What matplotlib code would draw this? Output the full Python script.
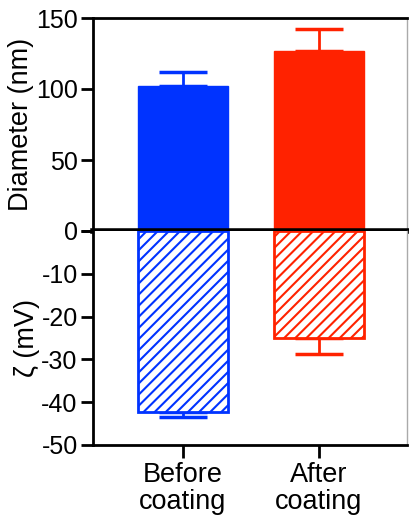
import matplotlib
matplotlib.use("Agg")
import matplotlib.pyplot as plt

plt.rcParams['font.family'] = ['Liberation Sans', 'DejaVu Sans']
plt.rcParams['hatch.linewidth'] = 1.5

categories = ["Before\ncoating", "After\ncoating"]
diameter = [102.3, 127.0]
diameter_err = [9.5, 15.5]
zeta = [-42.2, -25.1]
zeta_err = [1.3, 3.6]
colors = ["#0033FF", "#FF2200"]

W, H = 409, 518
fig = plt.figure(figsize=(W / 100, H / 100), dpi=100)
left = 93 / W
right = 407 / W
y_top = 1 - 18 / H
y_mid = 1 - 231 / H
y_bot = 1 - 445 / H

ax1 = fig.add_axes([left, y_mid, right - left, y_top - y_mid])
ax2 = fig.add_axes([left, y_bot, right - left, y_mid - y_bot])

x = list(range(len(categories)))
bw = 0.66
for i in x:
    ax1.bar(i, diameter[i], width=bw, color=colors[i], edgecolor=colors[i], linewidth=1, zorder=2)
    ax1.errorbar(i, diameter[i], yerr=[[0], [diameter_err[i]]], color=colors[i],
                 capsize=17, elinewidth=2, capthick=2.5, fmt='none', zorder=1)
    ax2.bar(i, zeta[i], width=bw, facecolor='white', edgecolor=colors[i], linewidth=2,
            hatch='///', zorder=2)
    ax2.errorbar(i, zeta[i], yerr=[[zeta_err[i]], [0]], color=colors[i],
                 capsize=17, elinewidth=2, capthick=2.5, fmt='none', zorder=1)

xlim = (-0.66, 1.65)
for ax in (ax1, ax2):
    ax.set_xlim(*xlim)
    ax.tick_params(axis='both', labelsize=18, length=9, width=2, direction='out', pad=2)
    ax.spines['left'].set_linewidth(2)
    ax.spines['right'].set_linewidth(1)
    ax.spines['right'].set_color('#aaaaaa')

ax1.set_ylim(0, 150)
ax1.set_yticks([0, 50, 100, 150])
ax1.set_xticks([])
ax1.spines['bottom'].set_visible(False)
ax1.spines['top'].set_linewidth(2)
ax1.set_ylabel("Diameter (nm)", fontsize=19.5, labelpad=1)

ax2.set_ylim(-50, 0)
ax2.set_yticks([0, -10, -20, -30, -40, -50])
ax2.set_yticklabels(["", "-10", "-20", "-30", "-40", "-50"])
ax2.set_xticks(x)
ax2.set_xticklabels(categories, fontsize=19.5, linespacing=1.05)
ax2.tick_params(axis='x', pad=3)
ax2.spines['top'].set_visible(False)
ax2.spines['bottom'].set_linewidth(2)
ax2.set_ylabel("ζ (mV)", fontsize=19.5, labelpad=1)

ax1.axhline(0, color='black', linewidth=4, zorder=5, clip_on=False)

fig.align_ylabels([ax1, ax2])
fig.savefig("out.png", dpi=100)
